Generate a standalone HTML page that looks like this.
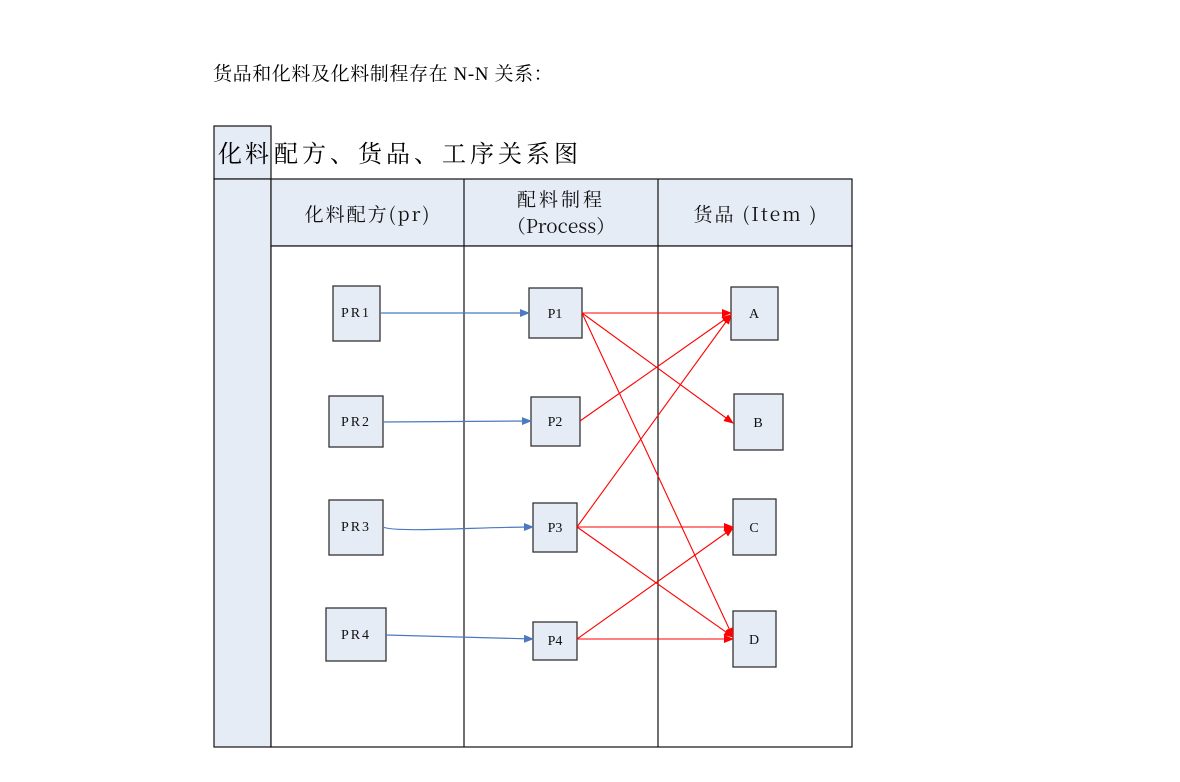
<!DOCTYPE html>
<html><head><meta charset="utf-8"><style>
html,body{margin:0;padding:0;background:#fff;}
svg{display:block;}
</style></head><body>
<svg width="1180" height="782" xmlns="http://www.w3.org/2000/svg" font-family="'Liberation Serif','Noto Serif CJK SC',serif">
<defs>
<marker id="rb" markerWidth="10" markerHeight="8" refX="9" refY="4" orient="auto" markerUnits="userSpaceOnUse"><path d="M0,0 L10,4 L0,8 z" fill="#ff0000"/></marker>
<marker id="bb" markerWidth="10" markerHeight="8" refX="9" refY="4" orient="auto" markerUnits="userSpaceOnUse"><path d="M0,0 L10,4 L0,8 z" fill="#4a7ac0"/></marker>
</defs>
<text x="213" y="80" font-size="19" letter-spacing="0.6" font-family="'Liberation Serif','Noto Serif CJK SC',serif">货品和化料及化料制程存在 N-N 关系：</text>
<rect x="214" y="126" width="57" height="53" fill="#e6ecf6" stroke="#111" stroke-width="1.2"/>
<text x="218" y="162" font-size="24" letter-spacing="3" font-family="'Noto Serif CJK SC',serif">化料</text>
<text x="274" y="162" font-size="24" letter-spacing="4" font-family="'Noto Serif CJK SC',serif">配方、货品、工序关系图</text>
<rect x="214" y="179" width="57" height="568" fill="#e6ecf6" stroke="#111" stroke-width="1.2"/>
<rect x="271" y="179" width="581" height="67" fill="#e6ecf6" stroke="#111" stroke-width="1.2"/>
<rect x="271" y="246" width="581" height="501" fill="#fff" stroke="#111" stroke-width="1.2"/>
<line x1="464" y1="179" x2="464" y2="747" stroke="#111" stroke-width="1.2"/>
<line x1="658" y1="179" x2="658" y2="747" stroke="#111" stroke-width="1.2"/>
<g font-family="'Noto Serif CJK SC',serif" font-size="19" text-anchor="middle" fill="#111">
<text x="368" y="221" letter-spacing="2">化料配方(pr)</text>
<text x="561" y="206" letter-spacing="3">配料制程</text>
<text x="561" y="233" letter-spacing="0">（Process）</text>
<text x="756" y="221" letter-spacing="2">货品 (Item )</text>
</g>
<g fill="#e6ecf6" stroke="#333" stroke-width="1.3">
<rect x="333" y="286" width="47" height="55"/>
<rect x="329" y="396" width="54" height="51"/>
<rect x="329" y="500" width="54" height="55"/>
<rect x="326" y="608" width="60" height="53"/>
<rect x="529" y="288" width="53" height="50"/>
<rect x="531" y="397" width="49" height="49"/>
<rect x="533" y="503" width="44" height="49"/>
<rect x="533" y="622" width="44" height="38"/>
<rect x="731" y="287" width="47" height="53"/>
<rect x="734" y="394" width="49" height="56"/>
<rect x="733" y="499" width="43" height="56"/>
<rect x="733" y="611" width="43" height="56"/>
</g>
<g font-size="14" text-anchor="middle" fill="#111">
<text x="356" y="317" letter-spacing="2">PR1</text>
<text x="356" y="426" letter-spacing="2">PR2</text>
<text x="356" y="531" letter-spacing="2">PR3</text>
<text x="356" y="639" letter-spacing="2">PR4</text>
<text x="555" y="318">P1</text>
<text x="555" y="426">P2</text>
<text x="555" y="532">P3</text>
<text x="555" y="645">P4</text>
<text x="754" y="318">A</text>
<text x="758" y="427">B</text>
<text x="754" y="532">C</text>
<text x="754" y="644">D</text>
</g>
<g stroke="#4a7ac0" stroke-width="1.2" fill="none" marker-end="url(#bb)">
<line x1="380" y1="313" x2="529" y2="313"/>
<line x1="383" y1="422" x2="531" y2="421"/>
<path d="M383,527 C395,533 480,527 533,527"/>
<line x1="386" y1="635" x2="533" y2="639"/>
</g>
<g stroke="#ff0000" stroke-width="1.1" fill="none" marker-end="url(#rb)">
<line x1="582" y1="313" x2="731" y2="313"/>
<line x1="582" y1="313" x2="733" y2="423"/>
<line x1="582" y1="313" x2="733" y2="637"/>
<line x1="580" y1="421" x2="731" y2="315"/>
<line x1="577" y1="527" x2="731" y2="315"/>
<line x1="577" y1="527" x2="733" y2="527"/>
<line x1="577" y1="527" x2="733" y2="637"/>
<line x1="577" y1="639" x2="733" y2="528"/>
<line x1="577" y1="639" x2="733" y2="639"/>
</g>
</svg>
</body></html>
